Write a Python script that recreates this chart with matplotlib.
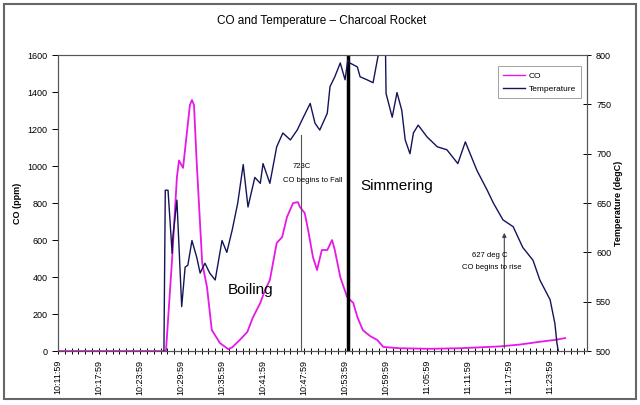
import matplotlib
matplotlib.use("Agg")
import matplotlib.pyplot as plt
from matplotlib.patches import Rectangle
from matplotlib.lines import Line2D

plt.rcParams['font.family'] = ['Liberation Sans', 'DejaVu Sans']

# ---- data (minutes after 10:11:59) ----
co_t = [0, 15.8, 16.7, 17.4, 17.7, 18.0, 18.3, 18.9, 19.3, 19.6, 19.9, 20.3, 21.1, 21.8,
        22.5, 23.7, 24.9, 25.5, 26.6, 27.7, 28.5, 29.6, 30.3, 31.0, 32.0, 32.8, 33.5,
        34.4, 35.1, 35.4, 36.1, 36.6, 37.3, 37.9, 38.6, 39.4, 40.1, 40.5, 41.3, 42.3,
        43.2, 43.8, 44.6, 45.7, 46.7, 47.6, 50.0, 54.4, 58.8, 61.8, 64.7, 67.6, 70.5,
        72.7, 74.2]
co_v = [0, 0, 500, 940, 1030, 1010, 990, 1195, 1330, 1357, 1330, 1016, 476, 346,
        114, 43, 10, 20, 60, 103, 180, 260, 330, 384, 584, 616, 724,
        800, 805, 778, 746, 654, 508, 438, 546, 546, 600, 546, 400, 292,
        260, 184, 113, 80, 60, 22, 15, 12, 15, 20, 25, 35, 50,
        60, 70]

temp_t = [15.5, 15.7, 16.1, 16.7, 16.8, 17.4, 18.1, 18.6, 19.0, 19.6, 20.3, 20.8, 21.5,
          22.2, 23.0, 24.0, 24.7, 25.5, 26.3, 27.1, 27.8, 28.8, 29.6, 30.0, 31.0, 32.0,
          32.9, 34.0, 35.0, 35.9, 36.9, 37.6, 38.3, 39.4, 39.8, 40.5, 41.3, 42.0, 42.4,
          42.7, 43.8, 44.2, 45.2, 46.1, 46.8, 47.6, 47.9, 48.0, 48.9, 49.6, 50.3, 50.8,
          51.5, 52.0, 52.7, 54.0, 55.5, 56.9, 58.5, 59.6, 60.3, 61.3, 62.8, 63.7, 65.1,
          66.6, 68.0, 69.5, 70.5, 72.0, 72.7, 73.0, 73.2]
temp_v = [500, 663, 663, 599, 615, 653, 545, 585, 587, 612, 595, 579, 589,
          579, 572, 612, 600, 623, 650, 689, 646, 676, 670, 690, 670, 707,
          721, 714, 724, 737, 751, 731, 724, 741, 768, 778, 792, 775, 795,
          792, 788, 778, 775, 772, 798, 815, 815, 761, 737, 762, 744, 714,
          700, 721, 729, 717, 707, 704, 690, 712, 700, 683, 663, 650, 633,
          626, 605, 592, 572, 552, 528, 508, 500]

tick_labels = ["10:11:59", "10:17:59", "10:23:59", "10:29:59", "10:35:59", "10:41:59",
               "10:47:59", "10:53:59", "10:59:59", "11:05:59", "11:11:59", "11:17:59",
               "11:23:59"]

co_color = '#E619E6'
temp_color = '#14145A'

fig = plt.figure(figsize=(6.4, 4.05), dpi=100)
ax = fig.add_axes([0.0906, 0.1333, 0.8266, 0.7307])
ax2 = ax.twinx()

ax.plot(co_t, co_v, color=co_color, lw=1.3)
ax2.plot(temp_t, temp_v, color=temp_color, lw=1.0)

ax.set_xlim(0, 77.4)
ax.set_ylim(0, 1600)
ax2.set_ylim(500, 800)

ax.set_xticks([i * 6 for i in range(len(tick_labels))])
ax.set_xticklabels(tick_labels, rotation=90, fontsize=6.5)
ax.set_xticks(range(0, 78), minor=True)
ax.tick_params(axis='x', which='both', direction='inout', length=5, width=0.7, pad=4)
ax.set_yticks(range(0, 1601, 200))
ax.tick_params(axis='y', direction='out', length=4, width=0.7, labelsize=6.5)
ax2.set_yticks(range(500, 801, 50))
ax2.tick_params(axis='y', direction='inout', length=6, width=0.7, labelsize=6.5)

for a in (ax, ax2):
    for s in a.spines.values():
        s.set_color('#555555')
        s.set_linewidth(0.8)
ax.spines['top'].set_color('#888888')

ax.set_ylabel('CO (ppm)', fontsize=6.5, fontweight='bold', labelpad=4)
ax2.set_ylabel('Temperature (degC)', fontsize=6.5, fontweight='bold', labelpad=2)

fig.text(0.503, 0.948, 'CO and Temperature \u2013 Charcoal Rocket', ha='center', va='center',
         fontsize=8.5)

# annotations
ax.plot([35.6, 35.6], [0, 1168], color='#555555', lw=0.8)
ax.text(35.7, 995, '723C', fontsize=5.5, ha='center', va='center')
ax.text(37.3, 924, 'CO begins to Fall', fontsize=5.5, ha='center', va='center')
ax.plot([42.4, 42.4], [0, 1600], color='black', lw=2.5)
ax.text(44.2, 892, 'Simmering', fontsize=11, ha='left', va='center')
ax.text(28.2, 330, 'Boiling', fontsize=11, ha='center', va='center')
ax.annotate('', xy=(65.3, 654), xytext=(65.3, 0),
            arrowprops=dict(arrowstyle='-|>', color='#444444', lw=0.8, mutation_scale=6))
ax.text(63.2, 519, '627 deg C', fontsize=5.5, ha='center', va='center')
ax.text(63.5, 449, 'CO begins to rise', fontsize=5.5, ha='center', va='center')

handles = [Line2D([], [], color=co_color, lw=1.0), Line2D([], [], color=temp_color, lw=1.0)]
leg = ax2.legend(handles, ['CO', 'Temperature'], loc='upper left',
                 bbox_to_anchor=(0.823, 0.977), fontsize=6, frameon=True, fancybox=False,
                 handlelength=2.6, borderpad=0.7, labelspacing=0.6, handletextpad=0.4)
leg.get_frame().set_edgecolor('#888888')
leg.get_frame().set_linewidth(0.7)

fig.patches.append(Rectangle((0.006, 0.015), 0.988, 0.976, transform=fig.transFigure,
                             fill=False, edgecolor='#666666', lw=1.5))

fig.savefig('out.png', dpi=100)
